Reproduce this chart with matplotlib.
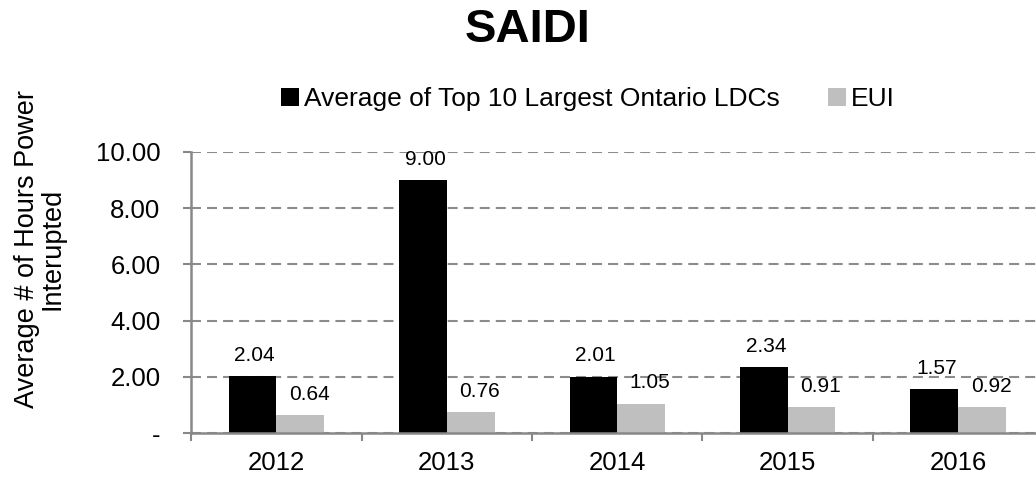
import matplotlib
matplotlib.use('Agg')
import matplotlib.pyplot as plt
import numpy as np

years = ['2012', '2013', '2014', '2015', '2016']
top10_avg = [2.04, 9.00, 2.01, 2.34, 1.57]
eui = [0.64, 0.76, 1.05, 0.91, 0.92]
y_ticks = [0, 2, 4, 6, 8, 10]
y_tick_labels = ['-', '2.00', '4.00', '6.00', '8.00', '10.00']

plt.rcParams['font.family'] = ['Liberation Sans', 'DejaVu Sans']

fig = plt.figure(figsize=(10.36, 4.78), dpi=100)
ax = fig.add_axes([0.1844, 0.0941, 0.8228, 0.588])

x = np.arange(len(years))
w = 0.28
b1 = ax.bar(x - w / 2, top10_avg, w, color='black', label='Average of Top 10 Largest Ontario LDCs', zorder=3)
b2 = ax.bar(x + w / 2, eui, w, color='#bfbfbf', label='EUI', zorder=3)

# value labels above each bar
for rect, v in zip(b1, top10_avg):
	ax.annotate('%.2f' % v, (rect.get_x() + rect.get_width() / 2, v), xytext=(1.5, 8),
		textcoords='offset points', ha='center', va='bottom', fontsize=15)
for rect, v in zip(b2, eui):
	ax.annotate('%.2f' % v, (rect.get_x() + rect.get_width() / 2, v), xytext=(6.5, 8),
		textcoords='offset points', ha='center', va='bottom', fontsize=15)

ax.set_xlim(-0.5, len(years) - 0.5)
ax.set_ylim(0, 10)
ax.set_yticks(y_ticks)
ax.set_yticklabels(y_tick_labels, fontsize=18.5)
ax.set_xticks(x)
ax.set_xticklabels(years, fontsize=18.5)
ax.set_xticks(np.arange(len(years) + 1) - 0.5, minor=True)
ax.tick_params(axis='x', which='major', length=0, pad=13)
ax.tick_params(axis='x', which='minor', length=6, width=1.5, color='#888888', direction='out')
ax.tick_params(axis='y', length=6, width=1.5, color='#888888', pad=16)

ax.yaxis.grid(True, linestyle=(0, (4.8, 2.9)), color='#8c8c8c', linewidth=1.5, zorder=0)
for s in ['top', 'right']:
	ax.spines[s].set_visible(False)
for s in ['left', 'bottom']:
	ax.spines[s].set_color('#888888')
	ax.spines[s].set_linewidth(1.8)
	ax.spines[s].set_zorder(4)

fig.text(40 / 1036, 1 - 249 / 478, 'Average # of Hours Power\nInterupted', rotation=90,
	ha='center', va='center', multialignment='center', fontsize=19.5, linespacing=1.0)

fig.text(528 / 1036, 1 - 30 / 478, 'SAIDI', ha='center', va='center', fontsize=34, fontweight='bold')
leg = fig.legend(handles=[b1, b2], loc='center', bbox_to_anchor=(588 / 1036, 1 - 99 / 478), ncol=2,
	frameon=False, fontsize=19, handlelength=0.68, handleheight=0.68, handletextpad=0.2,
	columnspacing=1.8, borderpad=0, borderaxespad=0)

fig.savefig('out.png', dpi=100)
